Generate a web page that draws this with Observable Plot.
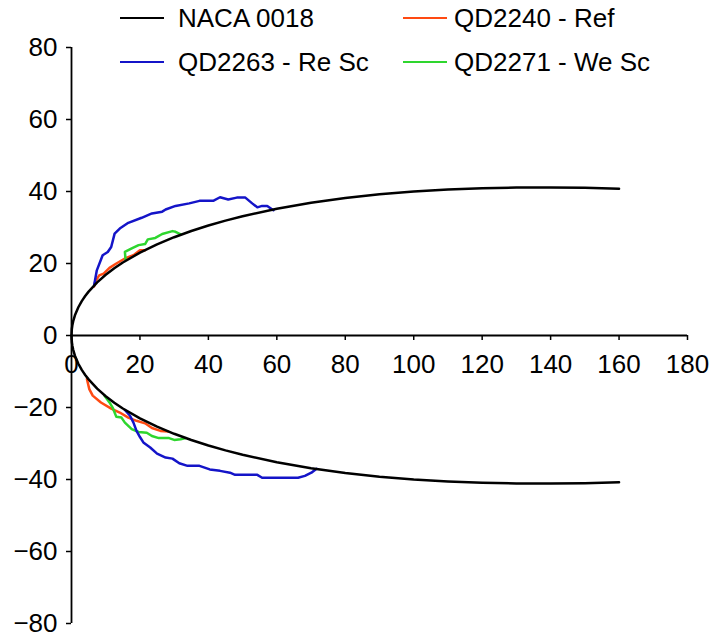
<!DOCTYPE html>
<html>
<head>
<meta charset="utf-8">
<script src="https://cdn.jsdelivr.net/npm/d3@7"></script>
<script src="https://cdn.jsdelivr.net/npm/@observablehq/plot@0.6"></script>
<style>
  html, body { margin: 0; padding: 0; background: #fff; }
  #wrap { position: relative; width: 710px; height: 637px; font-family: "Liberation Sans", Arial, sans-serif; }
  .leg { position: absolute; display: flex; align-items: center; font-size: 26px; color: #000; white-space: nowrap; }
  .leg .sw { width: 44px; height: 0; border-top: 2.2px solid; margin-right: 14px; }
</style>
</head>
<body>
<div id="wrap"></div>
<script>
// ---- data ----
const seriesNames = ["NACA 0018", "QD2240 - Ref", "QD2263 - Re Sc", "QD2271 - We Sc"];
const seriesColors = ["#000000", "#ff4a12", "#1414c8", "#2ed62e"];

const xTicks = [0, 20, 40, 60, 80, 100, 120, 140, 160, 180];
const yTicks = [-80, -60, -40, -20, 0, 20, 40, 60, 80];

const nacaUpper = [[0,0],[0.1,1.81],[0.25,2.83],[0.5,3.98],[1,5.6],[2,7.85],[3,9.55],[4,10.96],[5,12.19],[7.5,14.76],[10,16.86],[12.5,18.67],[15,20.27],[20,23.01],[25,25.31],[30,27.3],[35,29.03],[40,30.56],[45,31.92],[50,33.14],[60,35.2],[70,36.86],[80,38.18],[90,39.21],[100,39.99],[110,40.55],[120,40.91],[130,41.1],[140,41.13],[150,41.02],[160,40.78]];
const nacaLower = [[0,0],[0.1,-1.81],[0.25,-2.83],[0.5,-3.98],[1,-5.6],[2,-7.85],[3,-9.55],[4,-10.96],[5,-12.19],[7.5,-14.76],[10,-16.86],[12.5,-18.67],[15,-20.27],[20,-23.01],[25,-25.31],[30,-27.3],[35,-29.03],[40,-30.56],[45,-31.92],[50,-33.14],[60,-35.2],[70,-36.86],[80,-38.18],[90,-39.21],[100,-39.99],[110,-40.55],[120,-40.91],[130,-41.1],[140,-41.13],[150,-41.02],[160,-40.78]];

const refUpper = [[6.6,13.6],[6.9,14.9],[8.1,16.7],[9.4,17.2],[11.1,18.8],[13.1,20.0],[15.6,21.4],[18.1,22.3],[20.0,23.7],[21.5,23.7]];
const refLower = [[4.5,-12.1],[5.2,-14.9],[6.2,-16.7],[8.6,-18.6],[11.6,-20.3],[14.1,-21.4],[16.6,-22.8],[19.0,-23.7],[21.5,-24.4],[23.5,-25.7],[26.0,-26.5],[28.3,-26.7]];

const reUpper = [[6.6,13.9],[7.4,18.1],[9.1,22.3],[10.6,23.2],[11.6,24.6],[12.6,28.3],[14.1,29.7],[16.6,31.3],[20.5,32.7],[23.5,33.9],[26.5,34.4],[27.5,35.0],[30.4,36.0],[34.4,36.7],[37.4,37.4],[41.4,37.4],[43.4,38.4],[45.8,37.8],[48.3,38.3],[50.8,38.3],[52.8,36.7],[54.3,35.6],[55.7,36.0],[57.2,36.0],[59.0,34.8]];
const reLower = [[15.6,-20.7],[17.1,-22.3],[18.1,-24.2],[19.0,-26.5],[20.0,-28.2],[21.0,-29.7],[23.0,-31.1],[25.0,-32.8],[27.5,-33.9],[29.5,-34.2],[31.5,-35.5],[33.9,-36.2],[37.4,-36.2],[40.4,-37.2],[43.4,-37.6],[46.3,-38.1],[47.8,-38.7],[54.3,-38.7],[55.7,-39.5],[66.2,-39.5],[68.2,-39.0],[70.1,-38.1],[71.6,-37.0]];

const weUpper = [[15.8,21.1],[15.6,23.2],[17.6,24.2],[19.6,25.1],[21.5,25.4],[22.3,26.7],[24.5,27.1],[26.5,28.2],[29.5,29.0],[30.4,28.8],[31.9,28.1]];
const weLower = [[9.6,-16.7],[11.1,-18.6],[12.1,-20.2],[13.1,-22.6],[14.6,-22.8],[15.6,-24.2],[17.6,-26.0],[19.6,-26.8],[22.0,-27.0],[23.5,-27.9],[25.5,-28.5],[28.5,-28.5],[30.0,-29.0],[31.9,-28.8],[33.4,-28.5]];

// ---- chart ----
const line = (data, color) => Plot.line(data, {x: d => d[0], y: d => d[1], stroke: color, strokeWidth: 2.5, curve: "linear"});

const chart = Plot.plot({
  width: 710,
  height: 637,
  marginLeft: 71,
  marginRight: 23,
  marginTop: 47,
  marginBottom: 14,
  style: {fontFamily: "'Liberation Sans', Arial, sans-serif", fontSize: "26px", background: "#fff", color: "#000"},
  x: {domain: [0, 180], axis: null},
  y: {domain: [-80, 80]},
  marks: [
    Plot.axisY({ticks: yTicks, tickSize: 5, tickPadding: 9, fontSize: 26, strokeWidth: 1.5}),
    Plot.ruleX([0], {stroke: "#000", strokeWidth: 1.8}),
    Plot.ruleY([0], {stroke: "#000", strokeWidth: 1.8}),
    Plot.ruleX(xTicks, {x: d => d, y1: 0, y2: 0, insetBottom: -5, stroke: "#000", strokeWidth: 1.5}),
    Plot.text(xTicks, {x: d => d, y: 0, dy: 29, text: d => String(d), fontSize: 26, fill: "#000"}),
    line(refUpper, seriesColors[1]),
    line(refLower, seriesColors[1]),
    line(weUpper, seriesColors[3]),
    line(weLower, seriesColors[3]),
    line(reUpper, seriesColors[2]),
    line(reLower, seriesColors[2]),
    line(nacaUpper, seriesColors[0]),
    line(nacaLower, seriesColors[0])
  ]
});

const wrap = document.getElementById("wrap");
wrap.appendChild(chart);

// legend (HTML, overlaid at top)
const legPos = [[120, 18], [403, 18], [120, 62], [403, 62]];
seriesNames.forEach((name, i) => {
  const el = document.createElement("div");
  el.className = "leg";
  el.style.left = legPos[i][0] + "px";
  el.style.top = (legPos[i][1] - 15) + "px";
  el.style.height = "30px";
  const sw = document.createElement("span");
  sw.className = "sw";
  sw.style.borderTopColor = seriesColors[i];
  if (i === 1 || i === 3) sw.style.marginRight = "7px";
  el.appendChild(sw);
  const t = document.createElement("span");
  t.textContent = name;
  el.appendChild(t);
  wrap.appendChild(el);
});
</script>
</body>
</html>
